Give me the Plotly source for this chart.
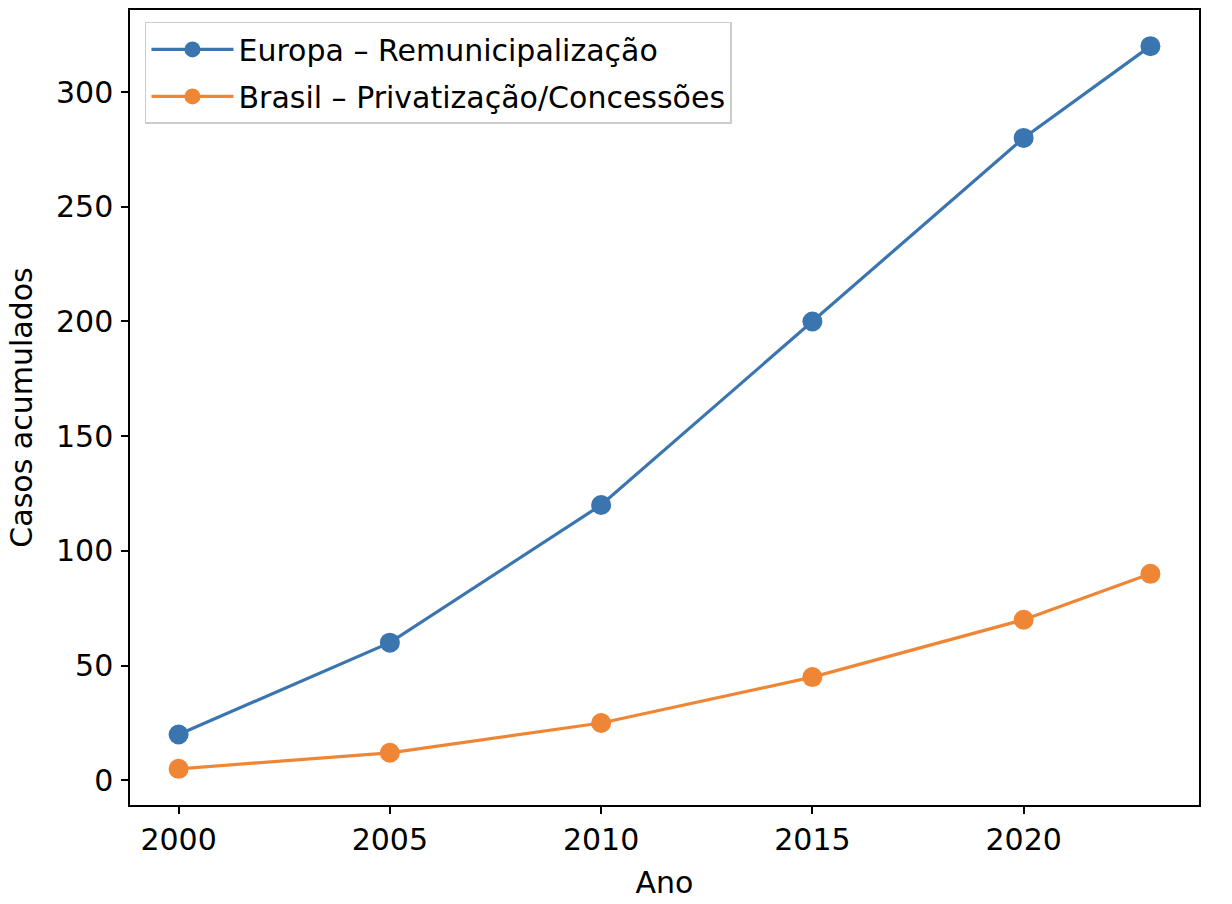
import plotly.graph_objects as go

anos = [2000, 2005, 2010, 2015, 2020, 2023]
europa = [20, 60, 120, 200, 280, 320]
brasil = [5, 12, 25, 45, 70, 90]
nome_europa = "Europa – Remunicipalização"
nome_brasil = "Brasil – Privatização/Concessões"
y_ticks = [0, 50, 100, 150, 200, 250, 300]
x_ticks = [2000, 2005, 2010, 2015, 2020]

azul = "#3a75b0"
laranja = "#ef8636"
FONT = "DejaVu Sans"
FS = 30

fig = go.Figure()
fig.add_trace(go.Scatter(x=anos, y=europa, mode="lines+markers", name=nome_europa, legendgroup="a",
                         line=dict(color=azul, width=3.2), marker=dict(size=20, color=azul)))
fig.add_trace(go.Scatter(x=anos, y=brasil, mode="lines+markers", name=nome_brasil, legendgroup="b",
                         line=dict(color=laranja, width=3.2), marker=dict(size=20, color=laranja)))

ax_common = dict(showgrid=False, zeroline=False, showline=True, linecolor="black", linewidth=1.5,
                 mirror=True, ticks="outside", ticklen=7, tickwidth=1.5, tickcolor="black",
                 tickfont=dict(family=FONT, size=FS, color="black"))

fig.update_xaxes(range=[1998.85, 2024.15], tickvals=x_ticks,
                 title=dict(text="Ano", font=dict(family=FONT, size=FS, color="black"), standoff=16),
                 **ax_common)
fig.update_yaxes(range=[-10.75, 335.75], tickvals=y_ticks, ticklabelstandoff=2,
                 title=dict(text="Casos acumulados", font=dict(family=FONT, size=FS, color="black"), standoff=14),
                 **ax_common)

fig.update_layout(
    width=1232, height=904,
    margin=dict(l=130, r=33, t=8, b=99),
    plot_bgcolor="white", paper_bgcolor="white",
    font=dict(family=FONT, size=FS, color="black"),
    legend=dict(x=0.014, y=0.985, xanchor="left", yanchor="top", tracegroupgap=5, itemwidth=82,
                bgcolor="rgba(255,255,255,0.8)", bordercolor="#cccccc", borderwidth=1.5,
                font=dict(family=FONT, size=FS, color="black")),
)

fig.write_html("out.html", config={"displayModeBar": False},
               post_script="document.body.style.margin='0';")
